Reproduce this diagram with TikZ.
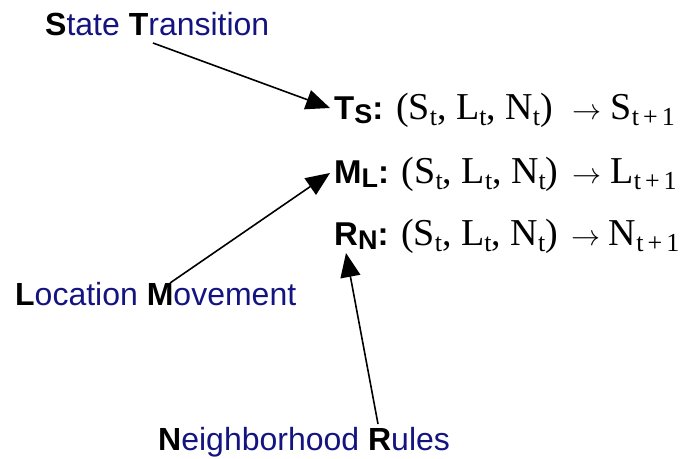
\documentclass[tikz,border=0pt]{standalone}
\usepackage{fontspec}
\usepackage{graphicx}
\setmainfont{Liberation Serif}
\setsansfont{Liberation Sans}
\usetikzlibrary{arrows.meta}
\definecolor{navy}{RGB}{20,20,128}
\tikzset{
  lbl/.style={inner sep=0pt, anchor=base west, font=\sffamily\fontsize{32}{32}\selectfont, text=navy},
  frm/.style={inner sep=0pt, anchor=base west, font=\rmfamily\fontsize{38}{38}\selectfont, text=black},
  pt/.style={line width=1.6pt, -{Triangle[length=24pt,width=20pt]}},
}
\newcommand{\bk}[1]{\textcolor{black}{\bfseries #1}}
\newcommand{\lab}[2]{{\sffamily\bfseries\fontsize{33}{33}\selectfont #1\raisebox{-4pt}{\fontsize{27}{27}\selectfont #2}:}}
\newcommand{\sbs}[1]{\raisebox{-6pt}{\fontsize{26}{26}\selectfont #1}}
\newcommand{\arr}{\resizebox{29pt}{!}{$\rightarrow$}}
\begin{document}
\begin{tikzpicture}[x=1pt,y=-1pt]
\useasboundingbox (0,0) rectangle (690,458);
\node[lbl] (st) at (45,35) {\bk{S}tate \bk{T}ransition};
\node[lbl] (lm) at (15,305) {\bk{L}ocation \bk{M}ovement};
\node[lbl] (nr) at (158,450) {\bk{N}eighborhood \bk{R}ules};
\node[frm] (ts) at (334,119) {\lab{T}{S} (S\sbs{t}, L\sbs{t}, N\sbs{t})\hspace{20pt}\arr\hspace{9pt}S\sbs{t\hspace{4pt}+\hspace{4pt}1}};
\node[frm] (ml) at (334,183) {\lab{M}{L} (S\sbs{t}, L\sbs{t}, N\sbs{t})\hspace{14pt}\arr\hspace{9pt}L\sbs{t\hspace{4pt}+\hspace{4pt}1}};
\node[frm] (rn) at (334,245) {\lab{R}{N} (S\sbs{t}, L\sbs{t}, N\sbs{t})\hspace{14pt}\arr\hspace{8pt}N\sbs{t\hspace{4pt}+\hspace{4pt}1}};
\coordinate (a1s) at (153,43);
\coordinate (a1e) at (330,108);
\coordinate (a2s) at (170,283);
\coordinate (a2e) at (330,173);
\coordinate (a3s) at (378,424);
\coordinate (a3e) at (346,253);
\draw[pt] (a1s) -- (a1e);
\draw[pt] (a2s) -- (a2e);
\draw[pt] (a3s) -- (a3e);
\end{tikzpicture}
\end{document}
